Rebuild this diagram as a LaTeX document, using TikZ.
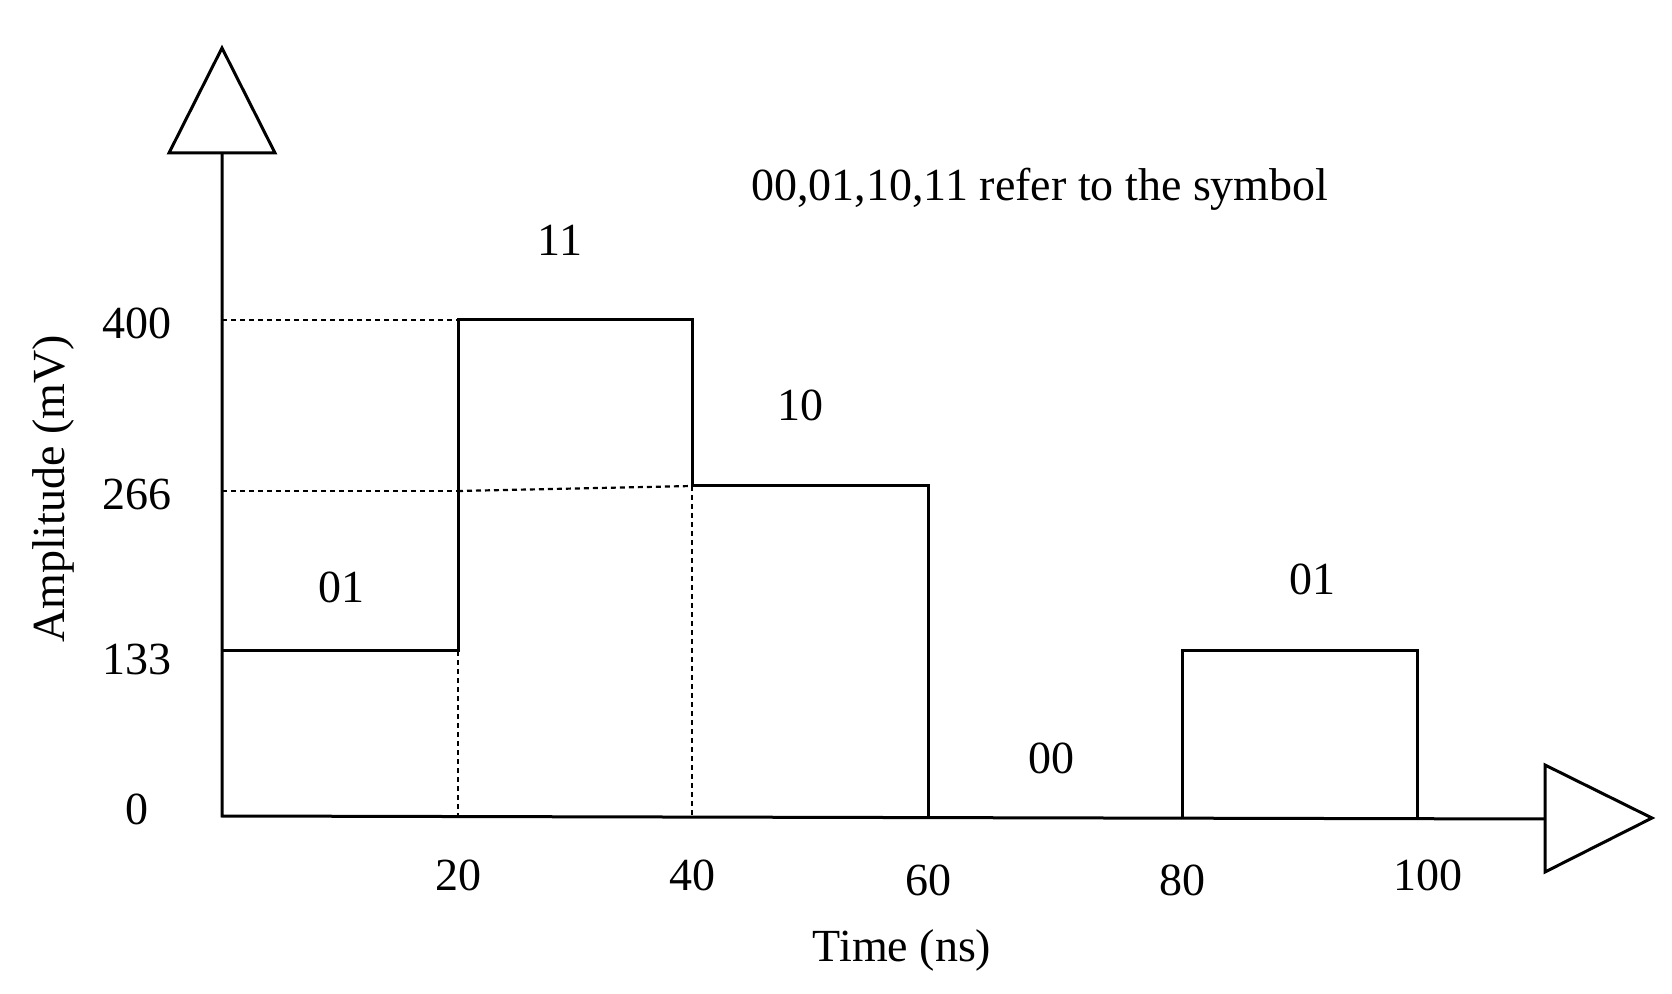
\documentclass[tikz,border=0pt]{standalone}
\usepackage{fontspec}
\setmainfont{Liberation Serif}
\begin{document}
\begin{tikzpicture}[x=0.5pt,y=-0.5pt,line width=1.5pt,
  lbl/.style={font=\fontsize{23}{26}\selectfont,inner sep=0pt},
  dot/.style={line width=1.1pt,dash pattern=on 2.5pt off 2pt}]
\useasboundingbox (0,0) rectangle (1672,994);
% axes
\coordinate (O) at (222,816);
\coordinate (Ytop) at (222,153);
\coordinate (Xend) at (1545,819);
\draw (Ytop) -- (O) -- (Xend);
\draw[fill=white] (169,153) -- (222,48) -- (275,153) -- cycle;
\draw[fill=white] (1545,765) -- (1652,818) -- (1545,872) -- cycle;
% dotted guides
\draw[dot] (222,320) -- (458,320);
\draw[dot] (222,491) -- (458,491);
\draw[dot] (458,491) -- (692,486);
\draw[dot] (458,651) -- (458,816);
\draw[dot] (692,486) -- (692,817);
% waveform
\draw (222,651) -- (458,651) -- (458,320) -- (692,320) -- (692,486) -- (928,486) -- (928,818);
\draw (1182,818) -- (1182,651) -- (1417,651) -- (1417,819);
% labels
\node[lbl] (l400) at (137,323) {400};
\node[lbl] (l266) at (137,494) {266};
\node[lbl] (l133) at (137,659) {133};
\node[lbl] (l0) at (137,809) {0};
\node[lbl] (t20) at (458,875) {20};
\node[lbl] (t40) at (692,875) {40};
\node[lbl] (t60) at (928,880) {60};
\node[lbl] (t80) at (1182,880) {80};
\node[lbl] (t100) at (1428,875) {100};
\node[lbl] (xl) at (902,950) {Time (ns)};
\node[lbl,rotate=90] (yl) at (53,489) {Amplitude (mV)};
\node[lbl] (s1) at (560,240) {11};
\node[lbl] (s2) at (800,405) {10};
\node[lbl] (s3) at (341,587) {01};
\node[lbl] (s4) at (1051,758) {00};
\node[lbl] (s5) at (1312,579) {01};
\node[lbl] (title) at (1040,189) {00,01,10,11 refer to the symbol};
\end{tikzpicture}
\end{document}
